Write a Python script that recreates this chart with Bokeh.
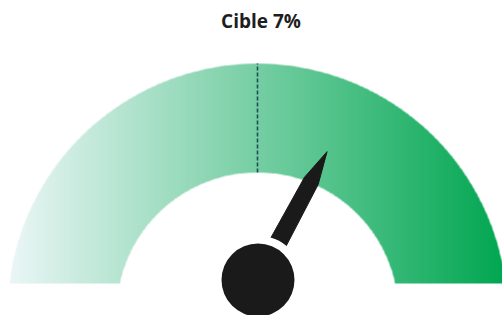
import numpy as np
from bokeh.plotting import figure
from bokeh.models import Range1d
from bokeh.core.properties import value
from bokeh.embed import file_html
from bokeh.resources import INLINE

# ---- data ----
title_word = "Cible"
gauge_min = 0.0
gauge_max = 14.0
target_value = 7.0
current_value = 9.2
color_start = (236, 247, 247)
color_end = (0, 166, 80)

# ---- geometry (unit gauge, centre at origin) ----
R_OUT, R_IN = 1.0, 0.564
Y_CUT = 0.12
HUB_C = (0.002, 0.134)
HUB_R = 0.146


def val_to_angle(v):
    return np.pi * (1.0 - (v - gauge_min) / (gauge_max - gauge_min))


p = figure(width=502, height=315, output_backend="svg", toolbar_location=None,
           x_range=Range1d(-1.028, 0.98), y_range=Range1d(-0.008, 1.252),
           min_border=0)
p.axis.visible = False
p.grid.visible = False
p.outline_line_color = None
p.background_fill_color = "white"
p.border_fill_color = "white"

# gradient band as an RGBA image
nx, ny = 1200, 540
x0, x1 = -1.0, 1.0
y0, y1 = Y_CUT, 1.02
xs = np.linspace(x0, x1, nx)
ys = np.linspace(y0, y1, ny)
X, Y = np.meshgrid(xs, ys)
Rr = np.hypot(X, Y)
edge = 0.004
a = np.clip((R_OUT - Rr) / edge + 0.5, 0, 1) * np.clip((Rr - R_IN) / edge + 0.5, 0, 1)
t = (X - x0) / (x1 - x0)
img = np.zeros((ny, nx), dtype=np.uint32)
view = img.view(dtype=np.uint8).reshape((ny, nx, 4))
for k in range(3):
    view[:, :, k] = (color_start[k] + (color_end[k] - color_start[k]) * t).astype(np.uint8)
view[:, :, 3] = (a * 255).astype(np.uint8)
p.image_rgba(image=[img], x=x0, y=y0, dw=x1 - x0, dh=y1 - y0)

# target dashed line
ta = val_to_angle(target_value)
p.line([R_IN * np.cos(ta), R_OUT * np.cos(ta)], [R_IN * np.sin(ta), R_OUT * np.sin(ta)],
       line_color="#1d4e57", line_width=1.6, line_dash="4 2")

# needle
na = val_to_angle(current_value)
ux, uy = np.cos(na), np.sin(na)
px_, py_ = -uy, ux
prof = [(0.0, 0.037), (0.45, 0.031), (0.583, 0.0), (0.45, -0.031), (0.0, -0.037)]
nxs = [HUB_C[0] + r * ux + w * px_ for r, w in prof]
nys = [HUB_C[1] + r * uy + w * py_ for r, w in prof]
p.patch(nxs, nys, fill_color="#1a1a1a", line_color="#1a1a1a", line_width=1)

# gap ring and hub
p.circle([HUB_C[0]], [HUB_C[1]], radius=0.178, fill_color="white", line_color=None)
p.circle([HUB_C[0]], [HUB_C[1]], radius=HUB_R, fill_color="#1a1a1a", line_color=None)

# title
p.text([0.014], [1.17], text=[f"{title_word} {target_value:g}%"], text_align="center",
       text_baseline="middle", text_font=value("Open Sans"), text_font_style="bold",
       text_font_size="19px", text_color="#1e1e1e")

open("out.html", "w").write(file_html(p, INLINE))
